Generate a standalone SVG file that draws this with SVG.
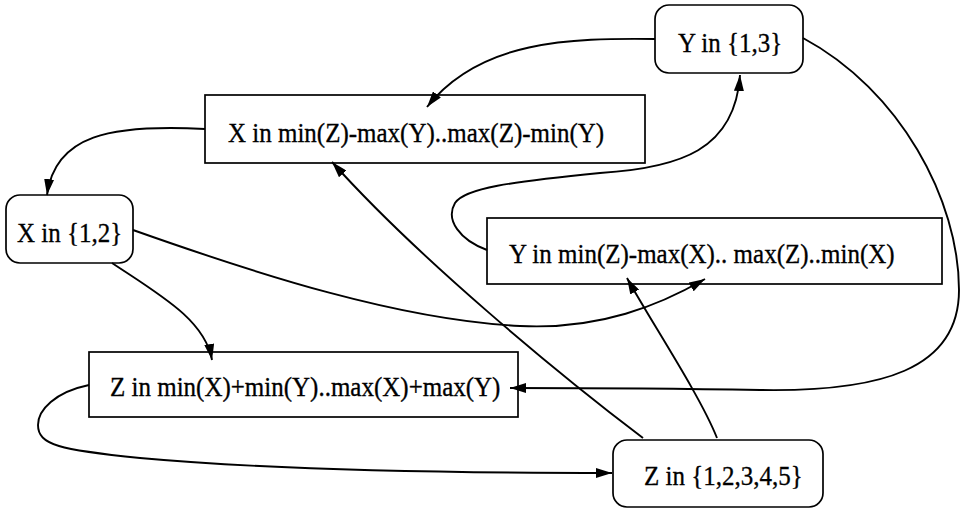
<svg xmlns="http://www.w3.org/2000/svg" width="962" height="508" viewBox="0 0 962 508">
<style>
  .node rect { fill: #fff; stroke: #000; stroke-width: 1.7; }
  .node text { font-family: "Liberation Serif", "Times New Roman", serif; font-size: 25px; fill: #000; stroke: #000; stroke-width: 0.3; }
  .edge { fill: none; stroke: #000; stroke-width: 1.9; marker-end: url(#arrow); }
</style>
<defs>
  <marker id="arrow" viewBox="0 0 16 10" refX="16" refY="5" markerWidth="16" markerHeight="10" markerUnits="userSpaceOnUse" orient="auto">
    <path d="M0,0 L16,5 L0,10 Z" fill="#000"/>
  </marker>
</defs>
<rect width="962" height="508" fill="#fff"/>
<g id="node-y13" class="node">
  <rect x="655" y="5" width="148" height="68" rx="14"/>
  <text transform="translate(678,52) scale(1,1.12)">Y in {1,3}</text>
</g>
<g id="node-xbox" class="node">
  <rect x="205" y="95" width="440" height="68"/>
  <text transform="translate(228,142) scale(1,1.12)">X in min(Z)-max(Y)..max(Z)-min(Y)</text>
</g>
<g id="node-x12" class="node">
  <rect x="6" y="195" width="127" height="68" rx="14"/>
  <text transform="translate(17,242) scale(1,1.12)">X in {1,2}</text>
</g>
<g id="node-ybox" class="node">
  <rect x="487" y="218" width="455" height="66"/>
  <text transform="translate(509,263) scale(1,1.12)">Y in min(Z)-max(X).. max(Z)..min(X)</text>
</g>
<g id="node-zbox" class="node">
  <rect x="89" y="352" width="429" height="65"/>
  <text transform="translate(110,396) scale(1,1.12)">Z in min(X)+min(Y)..max(X)+max(Y)</text>
</g>
<g id="node-z12345" class="node">
  <rect x="613" y="440" width="210" height="67" rx="14"/>
  <text transform="translate(644,485) scale(1,1.12)">Z in {1,2,3,4,5}</text>
</g>
<g id="connectors">
  <path class="edge" d="M655,39 C570,38 480,40 427,107"/>
  <path class="edge" d="M205,129 C110,124 55,135 47,195"/>
  <path class="edge" d="M112,263 C160,295 205,320 212,360"/>
  <path class="edge" d="M133,230 C260,275 400,320 520,326 C600,330 660,305 705,279"/>
  <path class="edge" d="M487,250 C460,240 445,220 455,203 C465,188 510,182 600,173 C680,168 735,150 740,75"/>
  <path class="edge" d="M803,38 C900,90 959,200 959,290 C959,370 880,392 760,390 C650,388 560,388 510,388"/>
  <path class="edge" d="M643,438 C560,375 420,260 332,162"/>
  <path class="edge" d="M717,438 C700,395 650,320 627,278"/>
  <path class="edge" d="M89,385 C55,392 38,410 38,425 C38,445 60,450 140,458 C250,468 400,473 612,473"/>
</g>
</svg>
